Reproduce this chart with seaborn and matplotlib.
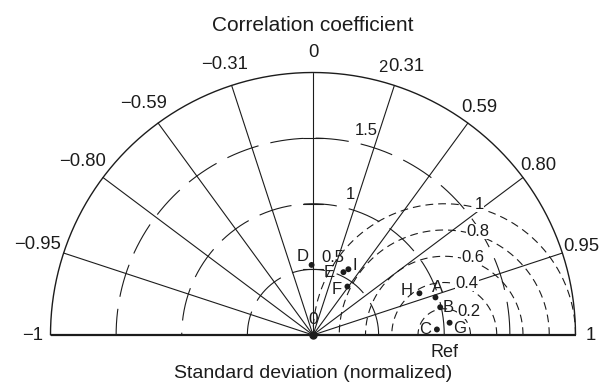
import numpy as np
import pandas as pd
import matplotlib
matplotlib.use("Agg")
import matplotlib.pyplot as plt
import seaborn as sns

# Normalized standard deviation and correlation of each model against the reference
models = ["A", "B", "C", "D", "E", "F", "G", "H", "I"]
std_norm = [0.976, 0.992, 0.945, 0.534, 0.532, 0.453, 1.045, 0.871, 0.569]
correlation = [0.956, 0.977, 0.999, -0.02, 0.436, 0.579, 0.996, 0.931, 0.474]

# Axis definitions
corr_ticks = [-1, -0.95, -0.80, -0.59, -0.31, 0, 0.31, 0.59, 0.80, 0.95, 1]
corr_tick_labels = ["\u22121", "\u22120.95", "\u22120.80", "\u22120.59", "\u22120.31",
                    "0", "0.31", "0.59", "0.80", "0.95", "1"]
std_arcs = [0.5, 1.0, 1.5]
std_label_values = [0.5, 1.0, 1.5, 2.0]
std_labels = ["0.5", "1", "1.5", "2"]
rms_levels = [0.2, 0.4, 0.6, 0.8, 1.0]
rms_labels = ["0.2", "0.4", "0.6", "0.8", "1"]
ref_std = 1.0
max_std = 2.0

# Layout helpers (angles in degrees around the reference point, label offsets in points)
rms_label_angle = [44, 66, 70, 72, 75]
label_offset = {"A": (1.5, 7), "B": (6, -0.5), "C": (-8.5, 0), "D": (-6.5, 6),
                "E": (-10, 0), "F": (-7.5, -2.5), "G": (7, -4), "H": (-9.5, 2),
                "I": (4.5, 2.5)}

sns.set_style("white")
plt.rcParams["font.family"] = ["Liberation Sans", "DejaVu Sans"]
ink = "#1c1c1c"

fig = plt.figure(figsize=(6.03, 3.85), dpi=100)
ax = fig.add_axes([0, 0, 1, 1])
ax.axis("off")

theta = np.linspace(0, np.pi, 500)

# outer boundary and baseline
ax.plot(max_std * np.cos(theta), max_std * np.sin(theta), color=ink, lw=1.0)
ax.plot([-max_std, max_std], [0, 0], color=ink, lw=1.6, solid_capstyle="butt")

# correlation rays and labels
for c, lab in zip(corr_ticks, corr_tick_labels):
    a = np.arccos(c)
    if abs(c) < 1:
        ax.plot([0, max_std * np.cos(a)], [0, max_std * np.sin(a)], color=ink, lw=0.8)
    if c == 1:
        ax.text(max_std + 0.08, 0, lab, ha="left", va="center", fontsize=13.3, color=ink)
    elif c == -1:
        ax.text(-max_std - 0.06, 0, lab, ha="right", va="center", fontsize=13.3, color=ink)
    else:
        r = 2.15 + (0.06 * abs(c) if c < 0 else 0)
        dx = 4 if lab == "0.31" else 0
        ax.annotate(lab, (r * np.cos(a), r * np.sin(a)), xytext=(dx, 0),
                    textcoords="offset points", ha="center", va="center",
                    fontsize=13.3, color=ink)

# standard deviation arcs
for s in std_arcs:
    ax.plot(s * np.cos(theta), s * np.sin(theta), color=ink, lw=0.8,
            dashes=(30, 11))
    ax.plot([-0.075, 0.075], [s, s], color=ink, lw=0.8)

sa = np.deg2rad(75.3)
for s, lab in zip(std_label_values, std_labels):
    r = s + 0.11
    ax.text(r * np.cos(sa), r * np.sin(sa), lab, ha="center", va="center",
            fontsize=12, color=ink)
ax.text(0, 0.115, "0", ha="center", va="center", fontsize=12.5, color=ink)

# centred RMS difference arcs around the reference
for g, lab, ang in zip(rms_levels, rms_labels, rms_label_angle):
    ax.plot(ref_std + g * np.cos(theta), g * np.sin(theta), color=ink, lw=0.8,
            dashes=(7, 4.5))
    t = np.deg2rad(ang)
    rl = g + (0.06 if g < 0.3 else 0.03)
    ax.text(ref_std + rl * np.cos(t), rl * np.sin(t), lab, ha="center", va="center",
            fontsize=12, color=ink,
            bbox=dict(boxstyle="square,pad=0.02", fc="white", ec="none"))

ax.text(ref_std, -0.13, "Ref", ha="center", va="center", fontsize=13, color=ink)

# model points
std_arr = np.array(std_norm)
corr_arr = np.array(correlation)
df = pd.DataFrame({
    "model": models,
    "x": std_arr * corr_arr,
    "y": std_arr * np.sqrt(1 - corr_arr ** 2),
})
sns.scatterplot(data=df, x="x", y="y", color=ink, s=18, edgecolor="none",
                legend=False, ax=ax, zorder=5)
ax.plot([0], [0], "o", color=ink, ms=5, zorder=5)
for _, row in df.iterrows():
    ax.annotate(row["model"], (row["x"], row["y"]), xytext=label_offset[row["model"]],
                textcoords="offset points", ha="center", va="center",
                fontsize=12, color=ink)

# titles
ax.text(0, 2.36, "Correlation coefficient", ha="center", va="center",
        fontsize=15, color=ink)
ax.text(0, -0.29, "Standard deviation (normalized)", ha="center", va="center",
        fontsize=14, color=ink)

scale = 131.25
ax.set_xlim(-313 / scale, (603 - 313) / scale)
ax.set_ylim(-(385 - 335) / scale, 335 / scale)
ax.set_xlabel("")
ax.set_ylabel("")

fig.savefig("out.png", dpi=100)
